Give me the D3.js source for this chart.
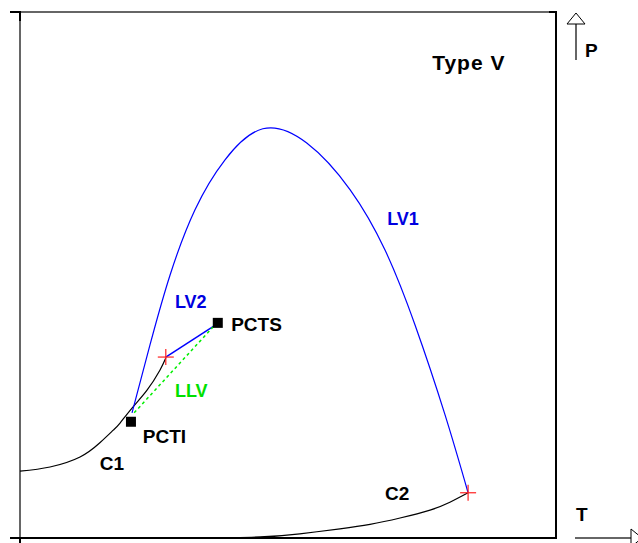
<!DOCTYPE html>
<html>
<head>
<meta charset="utf-8">
<script src="https://cdn.jsdelivr.net/npm/d3@7"></script>
<style>
  body { margin: 0; background: #fff; }
  text { font-family: "Liberation Sans", Arial, sans-serif; font-weight: bold; }
</style>
</head>
<body>
<div id="viz"></div>
<script>
// values in arbitrary T / P units (0..100)
var c1 = [[0, 12.7], [5.6, 13.5], [11.2, 15.4], [14.9, 18.1], [17.4, 20.5], [18.7, 21.9],
          [20.9, 24.7], [23.7, 28.1], [26.1, 31.9], [27.2, 34.2]];
var c2 = [[33.6, 0], [44.8, 0.2], [52.2, 0.8], [59.7, 1.75], [65.3, 2.6], [70.9, 3.8],
          [76.5, 5.3], [80.2, 6.8], [83.6, 8.6]];
var lv1 = [[20.9, 23.8], [24.25, 36.7], [28.0, 50.0], [32.65, 62.4], [38.25, 71.9],
           [45.3, 77.8], [53.5, 75.1], [61.6, 66.2], [68.1, 54.75], [73.7, 40.5],
           [79.3, 23.4], [83.6, 8.6]];
var lv2 = [[27.2, 34.4], [36.8, 40.7]];
var llv = [[21.3, 23.8], [36.0, 40.1]];
var pctPoints = [{name: "PCTI", t: 20.7, p: 22.1}, {name: "PCTS", t: 36.9, p: 40.9}];
var crossPoints = [[27.2, 34.4], [83.6, 8.6]];
var labels = [
  {text: "Type V", t: 76.9, p: 89.0, color: "#000", size: 21, sp: 1},
  {text: "LV1", t: 68.5, p: 59.5, color: "#0000e0", size: 18, sp: 0},
  {text: "LV2", t: 28.9, p: 43.7, color: "#0000e0", size: 18, sp: 0},
  {text: "PCTS", t: 39.4, p: 39.4, color: "#000", size: 19, sp: 0},
  {text: "LLV", t: 28.9, p: 26.8, color: "#00e000", size: 18, sp: 0},
  {text: "PCTI", t: 22.9, p: 18.1, color: "#000", size: 19, sp: 0},
  {text: "C1", t: 14.9, p: 13.0, color: "#000", size: 19, sp: 0},
  {text: "C2", t: 68.1, p: 7.2, color: "#000", size: 19, sp: 0}
];

var width = 638, height = 543;
var x = d3.scaleLinear().domain([0, 100]).range([20, 556]);
var y = d3.scaleLinear().domain([0, 100]).range([538, 12]);

var svg = d3.select("#viz")
    .append("svg")
    .attr("width", width)
    .attr("height", height);

var line = d3.line()
    .x(function(d) { return x(d[0]); })
    .y(function(d) { return y(d[1]); })
    .curve(d3.curveLinear);

var smooth = d3.line()
    .x(function(d) { return x(d[0]); })
    .y(function(d) { return y(d[1]); })
    .curve(d3.curveNatural);

// frame
svg.append("line").attr("x1", 20).attr("y1", 12).attr("x2", 556).attr("y2", 12)
    .style("stroke", "#666").style("stroke-width", 2);
svg.append("line").attr("x1", 20).attr("y1", 12).attr("x2", 20).attr("y2", 538)
    .style("stroke", "#666").style("stroke-width", 2);
svg.append("line").attr("x1", 556).attr("y1", 11).attr("x2", 556).attr("y2", 538)
    .style("stroke", "#000").style("stroke-width", 2);
svg.append("line").attr("x1", 10).attr("y1", 538).attr("x2", 557).attr("y2", 538)
    .style("stroke", "#000").style("stroke-width", 2);
svg.append("line").attr("x1", 10).attr("y1", 12).attr("x2", 21).attr("y2", 12)
    .style("stroke", "#000").style("stroke-width", 2);
svg.append("line").attr("x1", 20).attr("y1", 12).attr("x2", 20).attr("y2", 21)
    .style("stroke", "#000").style("stroke-width", 2);
svg.append("line").attr("x1", 549).attr("y1", 12).attr("x2", 557).attr("y2", 12)
    .style("stroke", "#000").style("stroke-width", 2);
svg.append("line").attr("x1", 20).attr("y1", 538).attr("x2", 20).attr("y2", 543)
    .style("stroke", "#000").style("stroke-width", 2);

// axis arrows
svg.append("line").attr("x1", 576).attr("y1", 60).attr("x2", 576).attr("y2", 23)
    .style("stroke", "#666").style("stroke-width", 2);
svg.append("path").attr("d", "M567,24L576,13L585,24Z")
    .style("fill", "white").style("stroke", "#000").style("stroke-width", 1);
svg.append("line").attr("x1", 575).attr("y1", 538).attr("x2", 631).attr("y2", 538)
    .style("stroke", "#666").style("stroke-width", 2);
svg.append("path").attr("d", "M631,529L642,538L631,547Z")
    .style("fill", "white").style("stroke", "#000").style("stroke-width", 1);
svg.append("text").attr("x", 585).attr("y", 57).style("font-size", "19px").text("P");
svg.append("text").attr("x", 576).attr("y", 521).style("font-size", "19px").text("T");

// curves
svg.append("path").datum(c1).attr("d", smooth)
    .style("fill", "none").style("stroke", "#000").style("stroke-width", 1.2);
svg.append("path").datum(c2).attr("d", smooth)
    .style("fill", "none").style("stroke", "#000").style("stroke-width", 1.2);
svg.append("path").datum(lv1).attr("d", smooth)
    .style("fill", "none").style("stroke", "#0000ff").style("stroke-width", 1.2);
svg.append("path").datum(lv2).attr("d", line)
    .style("fill", "none").style("stroke", "#0000ff").style("stroke-width", 1.5);
svg.append("path").datum(llv).attr("d", line)
    .style("fill", "none").style("stroke", "#00ee00").style("stroke-width", 1.5)
    .style("stroke-dasharray", "3,3");

// critical points
svg.selectAll("rect.pct")
    .data(pctPoints)
    .enter().append("rect")
    .attr("class", "pct")
    .attr("x", function(d) { return x(d.t) - 5; })
    .attr("y", function(d) { return y(d.p) - 5; })
    .attr("width", 10)
    .attr("height", 10)
    .style("fill", "#000");

var cross = svg.selectAll("g.cross")
    .data(crossPoints)
    .enter().append("g")
    .attr("class", "cross")
    .attr("transform", function(d) { return "translate(" + x(d[0]) + "," + y(d[1]) + ")"; });
cross.append("line").attr("x1", -8).attr("x2", 8).attr("y1", 0).attr("y2", 0)
    .style("stroke", "#ff2020").style("stroke-width", 1.2);
cross.append("line").attr("x1", 0).attr("x2", 0).attr("y1", -8).attr("y2", 8)
    .style("stroke", "#ff2020").style("stroke-width", 1.2);

svg.selectAll("text.lbl")
    .data(labels)
    .enter().append("text")
    .attr("class", "lbl")
    .attr("x", function(d) { return x(d.t); })
    .attr("y", function(d) { return y(d.p); })
    .style("font-size", function(d) { return d.size + "px"; })
    .style("letter-spacing", function(d) { return d.sp + "px"; })
    .style("fill", function(d) { return d.color; })
    .text(function(d) { return d.text; });
</script>
</body>
</html>
